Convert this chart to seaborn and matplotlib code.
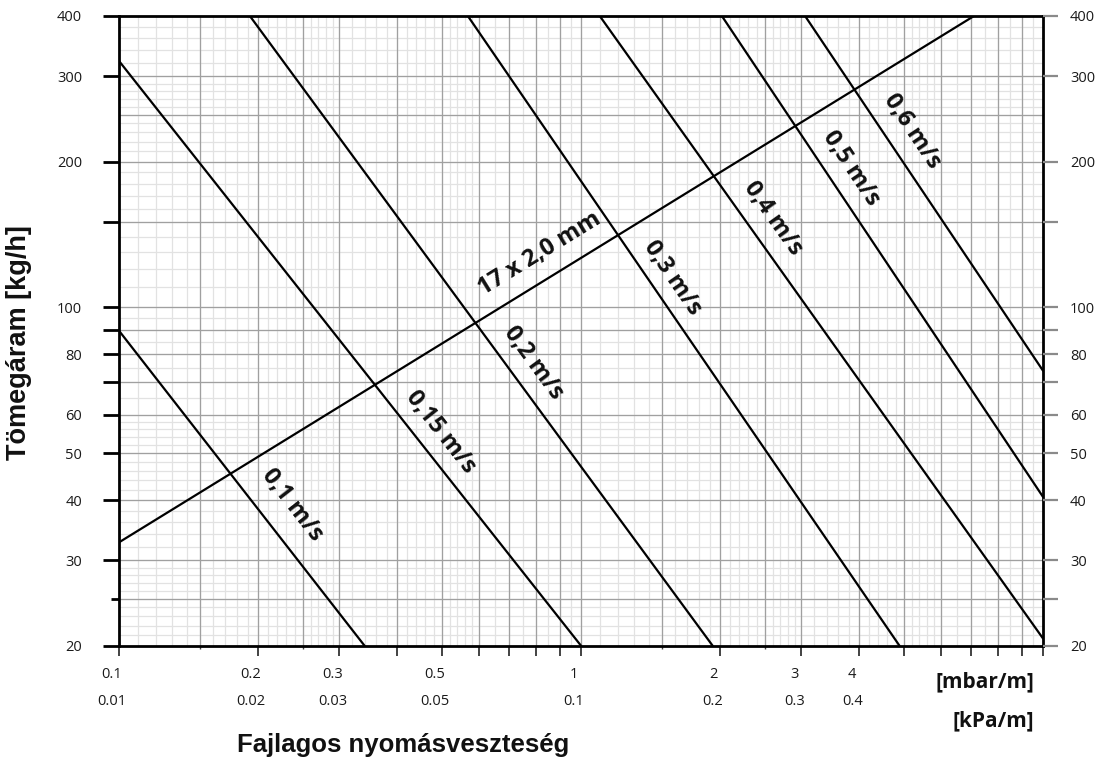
import numpy as np
import pandas as pd
import matplotlib
matplotlib.use("Agg")
import matplotlib.pyplot as plt
import matplotlib.transforms as mtransforms
from matplotlib.ticker import FixedLocator, FixedFormatter, NullFormatter, NullLocator
import seaborn as sns

# ---- data -------------------------------------------------------------
# Flow-velocity lines: start / end points (pressure loss in mbar/m, mass flow in kg/h)
velocity_labels = ["0,1 m/s", "0,15 m/s", "0,2 m/s", "0,3 m/s", "0,4 m/s", "0,5 m/s", "0,6 m/s"]
velocity_dp_start = [0.1, 0.1, 0.192, 0.569, 1.098, 2.018, 3.055]
velocity_flow_start = [89.5, 323.0, 400.0, 400.0, 400.0, 400.0, 400.0]
velocity_dp_end = [0.340, 1.0, 1.927, 4.89, 10.0, 10.0, 10.0]
velocity_flow_end = [20.0, 20.0, 20.0, 20.0, 20.7, 40.6, 74.0]

# Pipe characteristic
pipe_label = "17 x 2,0 mm"
pipe_dp = [0.1, 7.09]
pipe_flow = [32.7, 400.0]

# Axis ticks
x_tick_values = [0.1, 0.2, 0.3, 0.5, 1, 2, 3, 4]
x_tick_mbar = ["0.1", "0.2", "0.3", "0.5", "1", "2", "3", "4"]
x_tick_kpa = ["0.01", "0.02", "0.03", "0.05", "0.1", "0.2", "0.3", "0.4"]
y_tick_values = [20, 30, 40, 50, 60, 80, 100, 200, 300, 400]
y_tick_labels = ["20", "30", "40", "50", "60", "80", "100", "200", "300", "400"]
y_extra_ticks = [70, 90, 150]
y_short_ticks = [25]

# Label anchor points (data coordinates) for the line captions
velocity_label_x = [0.237, 0.497, 0.790, 1.58, 2.60, 3.84, 5.21]
velocity_label_y = [39.1, 55.3, 76.8, 115.0, 153.0, 194.0, 231.5]
pipe_label_xy = (0.814, 128.9)

# ---- figure -----------------------------------------------------------
sns.set_style("ticks")
plt.rcParams["font.family"] = ["Open Sans", "DejaVu Sans"]

W, H, DPI = 1096, 759, 100
fig = plt.figure(figsize=(W / DPI, H / DPI), dpi=DPI)
ax_l, ax_r, ax_t, ax_b = 119, 1043, 16, 645.7
ax = fig.add_axes([ax_l / W, 1 - ax_b / H, (ax_r - ax_l) / W, (ax_b - ax_t) / H])

ax.set_xscale("log")
ax.set_yscale("log")
xmin, xmax, ymin, ymax = 0.1, 10.0, 20.0, 400.0
ax.set_xlim(xmin, xmax)
ax.set_ylim(ymin, ymax)


# ---- log paper grid ---------------------------------------------------
def paper_lines(lo, hi, decades):
    fine, coarse = [], []
    steps = list(np.arange(1.0, 3.0, 0.1)) + list(np.arange(3.0, 6.0, 0.2)) + list(np.arange(6.0, 10.0, 0.5))
    bold = [1, 1.5, 2, 2.5, 3, 4, 5, 6, 7, 8, 9]
    for d in decades:
        for m in steps:
            v = round(m * d, 6)
            if lo < v < hi:
                fine.append(v)
        for m in bold:
            v = round(m * d, 6)
            if lo < v < hi:
                coarse.append(v)
    return fine, coarse


xf, xc = paper_lines(xmin, xmax, [0.1, 1.0])
yf, yc = paper_lines(ymin, ymax, [10.0, 100.0])
light, dark = "#e2e2e2", "#a0a0a0"
ax.vlines(xf, ymin, ymax, colors=light, lw=0.9, zorder=0)
ax.hlines(yf, xmin, xmax, colors=light, lw=0.9, zorder=0)
ax.vlines(xc, ymin, ymax, colors=dark, lw=0.9, zorder=1)
ax.hlines(yc, xmin, xmax, colors=dark, lw=0.9, zorder=1)

# ---- lines ------------------------------------------------------------
rows = []
for lab, x0, y0, x1, y1 in zip(velocity_labels, velocity_dp_start, velocity_flow_start,
                               velocity_dp_end, velocity_flow_end):
    rows.append({"line": lab, "dp": x0, "flow": y0})
    rows.append({"line": lab, "dp": x1, "flow": y1})
rows.append({"line": pipe_label, "dp": pipe_dp[0], "flow": pipe_flow[0]})
rows.append({"line": pipe_label, "dp": pipe_dp[1], "flow": pipe_flow[1]})
df = pd.DataFrame(rows)

sns.lineplot(data=df, x="dp", y="flow", units="line", estimator=None,
             color="black", lw=1.6, ax=ax, zorder=3, legend=False)
ax.set_xlim(xmin, xmax)
ax.set_ylim(ymin, ymax)
ax.set_xlabel("")
ax.set_ylabel("")

# ---- spines & ticks ---------------------------------------------------
for s in ax.spines.values():
    s.set_color("black")
    s.set_linewidth(2.0)
    s.set_zorder(5)

x_major = [0.1, 0.2, 0.3, 0.4, 0.5, 0.6, 0.7, 0.8, 0.9, 1, 2, 3, 4, 5, 6, 7, 8, 9, 10]
x_minor = [0.15, 0.25, 1.5, 2.5]
ax.xaxis.set_major_locator(FixedLocator(x_major))
ax.xaxis.set_minor_locator(FixedLocator(x_minor))
ax.xaxis.set_major_formatter(NullFormatter())
ax.xaxis.set_minor_formatter(NullFormatter())
ax.tick_params(axis="x", which="major", direction="out", length=7.5, width=1.2, color="#222222")
ax.tick_params(axis="x", which="minor", direction="out", length=2.5, width=1.0, color="#444444")

y_major = sorted(y_tick_values + y_extra_ticks)
y_major_lab = [y_tick_labels[y_tick_values.index(v)] if v in y_tick_values else "" for v in y_major]
ax.yaxis.set_major_locator(FixedLocator(y_major))
ax.yaxis.set_major_formatter(FixedFormatter(y_major_lab))
ax.yaxis.set_minor_locator(FixedLocator(y_short_ticks))
ax.yaxis.set_minor_formatter(NullFormatter())
ax.tick_params(axis="y", which="major", direction="out", length=11.5, width=2.0, color="black",
               pad=15.0, labelsize=10.5, labelcolor="#1a1a1a")
ax.tick_params(axis="y", which="minor", direction="out", length=6.0, width=2.0, color="black")

# right-hand scale
axr = ax.twinx()
axr.set_yscale("log")
axr.set_ylim(ymin, ymax)
r_vals = sorted(y_major + y_short_ticks)
axr.yaxis.set_major_locator(FixedLocator(r_vals))
axr.yaxis.set_major_formatter(FixedFormatter(
    [y_tick_labels[y_tick_values.index(v)] if v in y_tick_values else "" for v in r_vals]))
axr.yaxis.set_minor_locator(NullLocator())
axr.tick_params(axis="y", which="major", direction="out", length=11.0, width=1.6, color="#8a8a8a",
                pad=8.5, labelsize=10.5, labelcolor="#1a1a1a")
for s in axr.spines.values():
    s.set_visible(False)

# bottom tick labels: two unit rows
off1 = mtransforms.ScaledTranslation(-7 / DPI, -29.3 / DPI, fig.dpi_scale_trans)
off2 = mtransforms.ScaledTranslation(-7 / DPI, -56.0 / DPI, fig.dpi_scale_trans)
xtrans = mtransforms.blended_transform_factory(ax.transData, ax.transAxes)
for v, a, b in zip(x_tick_values, x_tick_mbar, x_tick_kpa):
    ax.text(v, 0, a, transform=xtrans + off1, ha="center", va="center", fontsize=10.5, color="#1a1a1a")
    ax.text(v, 0, b, transform=xtrans + off2, ha="center", va="center", fontsize=10.5, color="#1a1a1a")

fig.text(1034 / W, 1 - 681.5 / H, "[mbar/m]", ha="right", va="center",
         fontsize=15, fontweight="bold", color="#111111")
fig.text(1034 / W, 1 - 721 / H, "[kPa/m]", ha="right", va="center",
         fontsize=15, fontweight="bold", color="#111111")

# axis titles
fig.text(403 / W, 1 - 745 / H, "Fajlagos nyomásveszteség", ha="center", va="center",
         fontsize=18.5, fontweight="bold", family=["Liberation Sans", "DejaVu Sans"], color="#111111")
fig.text(19 / W, 1 - 343 / H, "Tömegáram [kg/h]", ha="center", va="center", rotation=90,
         fontsize=19.5, fontweight="bold", family=["Liberation Sans", "DejaVu Sans"], color="#111111")

# ---- captions along the lines -------------------------------------------
fig.canvas.draw()


def screen_angle(x0, y0, x1, y1):
    p0 = ax.transData.transform((x0, y0))
    p1 = ax.transData.transform((x1, y1))
    return np.degrees(np.arctan2(p1[1] - p0[1], p1[0] - p0[0]))


for lab, x0, y0, x1, y1, lx, ly in zip(velocity_labels, velocity_dp_start, velocity_flow_start,
                                       velocity_dp_end, velocity_flow_end,
                                       velocity_label_x, velocity_label_y):
    ang = screen_angle(x0, y0, x1, y1)
    ax.text(lx, ly, lab, rotation=ang, rotation_mode="anchor", ha="center", va="center",
            fontsize=17, fontweight="bold", color="#111111", zorder=6)

ang = screen_angle(pipe_dp[0], pipe_flow[0], pipe_dp[1], pipe_flow[1])
ax.text(pipe_label_xy[0], pipe_label_xy[1], pipe_label, rotation=ang, rotation_mode="anchor",
        ha="center", va="center", fontsize=17, fontweight="bold", color="#111111", zorder=6)

fig.savefig("out.png", dpi=DPI)
